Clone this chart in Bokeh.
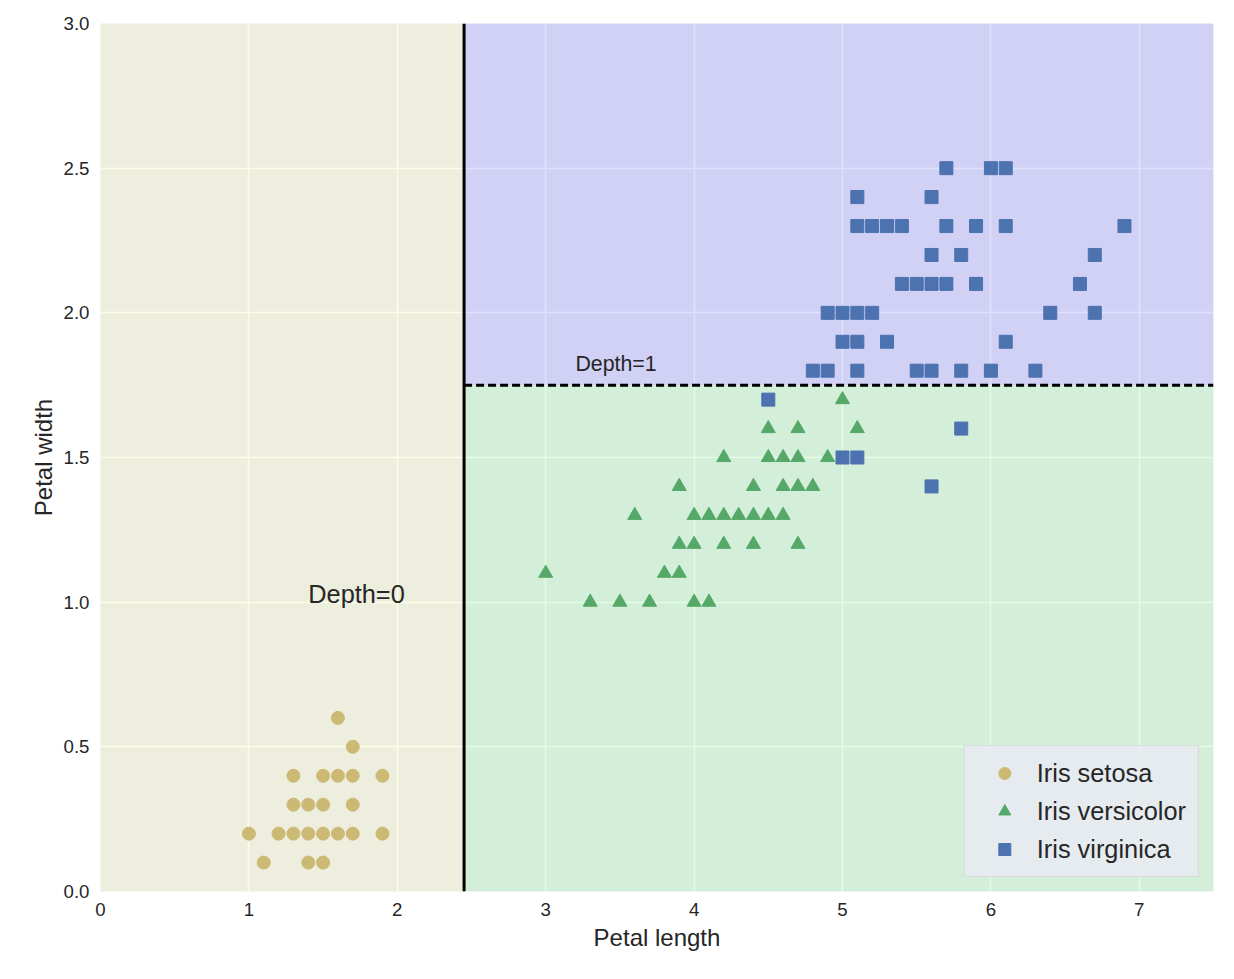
from bokeh.plotting import figure
from bokeh.models import Range1d, Label, CustomJSTickFormatter
from bokeh.embed import file_html
from bokeh.resources import INLINE

# petal length / width per class (unique points of the iris set)
setosa_x = [1.6, 1.7, 1.3, 1.5, 1.6, 1.7, 1.9, 1.3, 1.4, 1.5, 1.7,
            1.0, 1.2, 1.3, 1.4, 1.5, 1.6, 1.7, 1.9, 1.1, 1.4, 1.5]
setosa_y = [0.6, 0.5, 0.4, 0.4, 0.4, 0.4, 0.4, 0.3, 0.3, 0.3, 0.3,
            0.2, 0.2, 0.2, 0.2, 0.2, 0.2, 0.2, 0.2, 0.1, 0.1, 0.1]
versi_x = [3.3, 3.5, 3.7, 4.0, 4.1, 3.0, 3.8, 3.9, 3.9, 4.0, 4.2, 4.4, 4.7,
           3.6, 4.0, 4.1, 4.2, 4.3, 4.4, 4.5, 4.6, 3.9, 4.4, 4.6, 4.7, 4.8,
           4.2, 4.5, 4.6, 4.7, 4.9, 4.5, 4.7, 5.1, 5.0]
versi_y = [1.0, 1.0, 1.0, 1.0, 1.0, 1.1, 1.1, 1.1, 1.2, 1.2, 1.2, 1.2, 1.2,
           1.3, 1.3, 1.3, 1.3, 1.3, 1.3, 1.3, 1.3, 1.4, 1.4, 1.4, 1.4, 1.4,
           1.5, 1.5, 1.5, 1.5, 1.5, 1.6, 1.6, 1.6, 1.7]
virg_x = [5.6, 5.0, 5.1, 5.8, 4.5, 4.8, 4.9, 5.1, 5.5, 5.6, 5.8, 6.0, 6.3,
          5.0, 5.1, 5.3, 6.1, 4.9, 5.0, 5.1, 5.2, 6.4, 6.7,
          5.4, 5.5, 5.6, 5.7, 5.9, 6.6, 5.6, 5.8, 6.7,
          5.1, 5.2, 5.3, 5.4, 5.7, 5.9, 6.1, 6.9, 5.1, 5.6, 5.7, 6.0, 6.1]
virg_y = [1.4, 1.5, 1.5, 1.6, 1.7, 1.8, 1.8, 1.8, 1.8, 1.8, 1.8, 1.8, 1.8,
          1.9, 1.9, 1.9, 1.9, 2.0, 2.0, 2.0, 2.0, 2.0, 2.0,
          2.1, 2.1, 2.1, 2.1, 2.1, 2.1, 2.2, 2.2, 2.2,
          2.3, 2.3, 2.3, 2.3, 2.3, 2.3, 2.3, 2.3, 2.4, 2.4, 2.5, 2.5, 2.5]

# decision regions: left, right, bottom, top, colour
reg_left = [0.0, 2.45, 2.45]
reg_right = [2.45, 7.5, 7.5]
reg_bottom = [0.0, 1.75, 0.0]
reg_top = [3.0, 3.0, 1.75]
reg_color = ["#fafab0", "#9898ff", "#a0faa0"]

FONT = "Liberation Sans"

p = figure(width=1226, height=971, output_backend="svg", toolbar_location=None,
           x_range=Range1d(0, 7.5), y_range=Range1d(0, 3),
           min_border_left=100, min_border_right=13, min_border_top=23,
           min_border_bottom=80, background_fill_color="#eaeaf2",
           x_axis_label="Petal length", y_axis_label="Petal width")
p.outline_line_color = None
p.border_fill_color = "white"
p.xaxis.ticker = [0, 1, 2, 3, 4, 5, 6, 7]
p.yaxis.ticker = [0.0, 0.5, 1.0, 1.5, 2.0, 2.5, 3.0]
p.yaxis.formatter = CustomJSTickFormatter(code="return tick.toFixed(1)")
for ax in p.axis:
    ax.axis_line_color = None
    ax.major_tick_line_color = None
    ax.minor_tick_line_color = None
    ax.major_label_text_font = FONT
    ax.major_label_text_font_size = "14pt"
    ax.major_label_text_color = "#262626"
    ax.axis_label_text_font = FONT
    ax.axis_label_text_font_size = "18pt"
    ax.axis_label_text_font_style = "normal"
    ax.axis_label_text_color = "#262626"
p.yaxis.axis_label_standoff = 4
p.grid.grid_line_color = "white"
p.grid.grid_line_width = 1.5

p.quad(left=reg_left, right=reg_right, bottom=reg_bottom, top=reg_top,
       fill_color=reg_color, fill_alpha=0.3, line_color=None)

p.scatter(setosa_x, setosa_y, marker="circle", size=13, color="#ccb974",
          legend_label="Iris setosa")
p.scatter(versi_x, versi_y, marker="triangle", size=14, color="#55a868",
          legend_label="Iris versicolor")
p.scatter(virg_x, virg_y, marker="square", size=13, color="#4c72b0",
          legend_label="Iris virginica")

p.line([2.45, 2.45], [0, 3], line_color="black", line_width=3)
p.line([2.45, 7.5], [1.75, 1.75], line_color="black", line_width=3,
       line_dash="8 4")

p.add_layout(Label(x=1.4, y=0.98, text="Depth=0", text_font=FONT,
                   text_font_size="19pt", text_color="#262626"))
p.add_layout(Label(x=3.2, y=1.78, text="Depth=1", text_font=FONT,
                   text_font_size="16pt", text_color="#262626"))

p.legend.location = "bottom_right"
p.legend.label_text_font = FONT
p.legend.label_text_font_size = "19pt"
p.legend.label_text_color = "#262626"
p.legend.background_fill_color = "#eaeaf2"
p.legend.background_fill_alpha = 0.8
p.legend.border_line_color = "#cccccc"
p.legend.margin = 14
p.legend.padding = 12
p.legend.spacing = 8
p.legend.glyph_width = 55
p.legend.glyph_height = 30

open("out.html", "w").write(file_html(p, INLINE))
